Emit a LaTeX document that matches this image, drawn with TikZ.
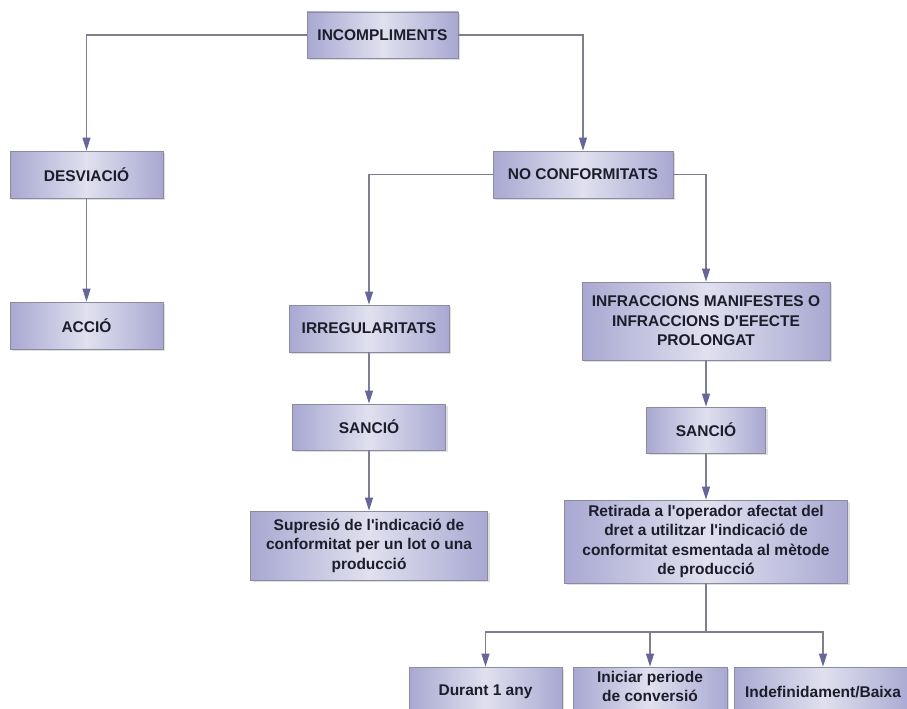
\documentclass[tikz,border=0pt]{standalone}
\usepackage{fontspec}
\setmainfont{Liberation Sans}[Ligatures=TeXOff]
\usetikzlibrary{arrows.meta,shadows}
\definecolor{boxedge}{HTML}{8A8AA0}
\definecolor{boxdark}{HTML}{A8A8D2}
\definecolor{boxlight}{HTML}{E0E0EF}
\definecolor{linec}{HTML}{7E7E8C}
\definecolor{tipc}{HTML}{66669A}
\definecolor{txt}{HTML}{1C1C2A}
\tikzset{
 box/.style={draw=boxedge, line width=0.8pt, left color=boxdark, right color=boxdark, middle color=boxlight,
   align=center, inner sep=2pt, font=\fontsize{15.5}{19.5}\selectfont\bfseries, text=txt,
   drop shadow={opacity=0.25, shadow xshift=2pt, shadow yshift=-2pt}},
 conn/.style={draw=linec, line width=1.1pt, -{Triangle[length=13pt,width=8pt,fill=tipc,color=tipc]}},
 plainline/.style={draw=linec, line width=1.1pt}
}
\begin{document}
\begin{tikzpicture}[x=1pt,y=-1pt]
\useasboundingbox (0,0) rectangle (907,709);
\clip (0,0) rectangle (907,709);
\fill[white] (0,0) rectangle (907,709);
\node[box, minimum width=151pt, minimum height=46pt] (inc) at (382.5,35) {INCOMPLIMENTS};
\node[box, minimum width=153pt, minimum height=47pt] (desv) at (86.5,174.5) {DESVIACIÓ};
\node[box, minimum width=153pt, minimum height=47pt] (acc) at (86.5,325.5) {ACCIÓ};
\node[box, minimum width=180pt, minimum height=47pt] (noconf) at (583,174.5) {NO CONFORMITATS};
\node[box, minimum width=160pt, minimum height=47pt] (irr) at (369,328.5) {IRREGULARITATS};
\node[box, minimum width=153pt, minimum height=46pt] (sanc1) at (369,427) {SANCIÓ};
\node[box, minimum width=237pt, minimum height=69pt] (sup) at (369,545.5) {Supresió de l'indicació de\\conformitat per un lot o una\\producció};
\node[box, minimum width=248pt, minimum height=78pt] (infr) at (706,321) {INFRACCIONS MANIFESTES O\\INFRACCIONS D'EFECTE\\PROLONGAT};
\node[box, minimum width=119pt, minimum height=46pt] (sanc2) at (706,430) {SANCIÓ};
\node[box, minimum width=283pt, minimum height=83pt] (ret) at (706,541.5) {Retirada a l'operador afectat del\\dret a utilitzar l'indicació de\\conformitat esmentada al mètode\\de producció};
\node[box, minimum width=153pt, minimum height=50pt] (dur) at (485.5,692) {Durant 1 any};
\node[box, minimum width=154pt, minimum height=50pt] (ini) at (650,692) {\raisebox{4pt}[\height][\depth]{\begin{tabular}{@{}c@{}}Iniciar periode\\de conversió\end{tabular}}};
\node[box, minimum width=178pt, minimum height=50pt] (ind) at (823,692) {Indefinidament/Baixa};
\coordinate (split) at (706,632);
\draw[conn] (inc.west) -| (desv.north);
\draw[conn] (inc.east) -| (noconf.north);
\draw[conn] (desv.south) -- (acc.north);
\draw[conn] (noconf.west) -| (irr.north);
\draw[conn] (noconf.east) -| (infr.north);
\draw[conn] (irr.south) -- (sanc1.north);
\draw[conn] (sanc1.south) -- (sup.north);
\draw[conn] (infr.south) -- (sanc2.north);
\draw[conn] (sanc2.south) -- (ret.north);
\draw[plainline] (ret.south) -- (split);
\draw[conn] (split) -| (dur.north);
\draw[conn] (split) -| (ini.north);
\draw[conn] (split) -| (ind.north);
\end{tikzpicture}
\end{document}
